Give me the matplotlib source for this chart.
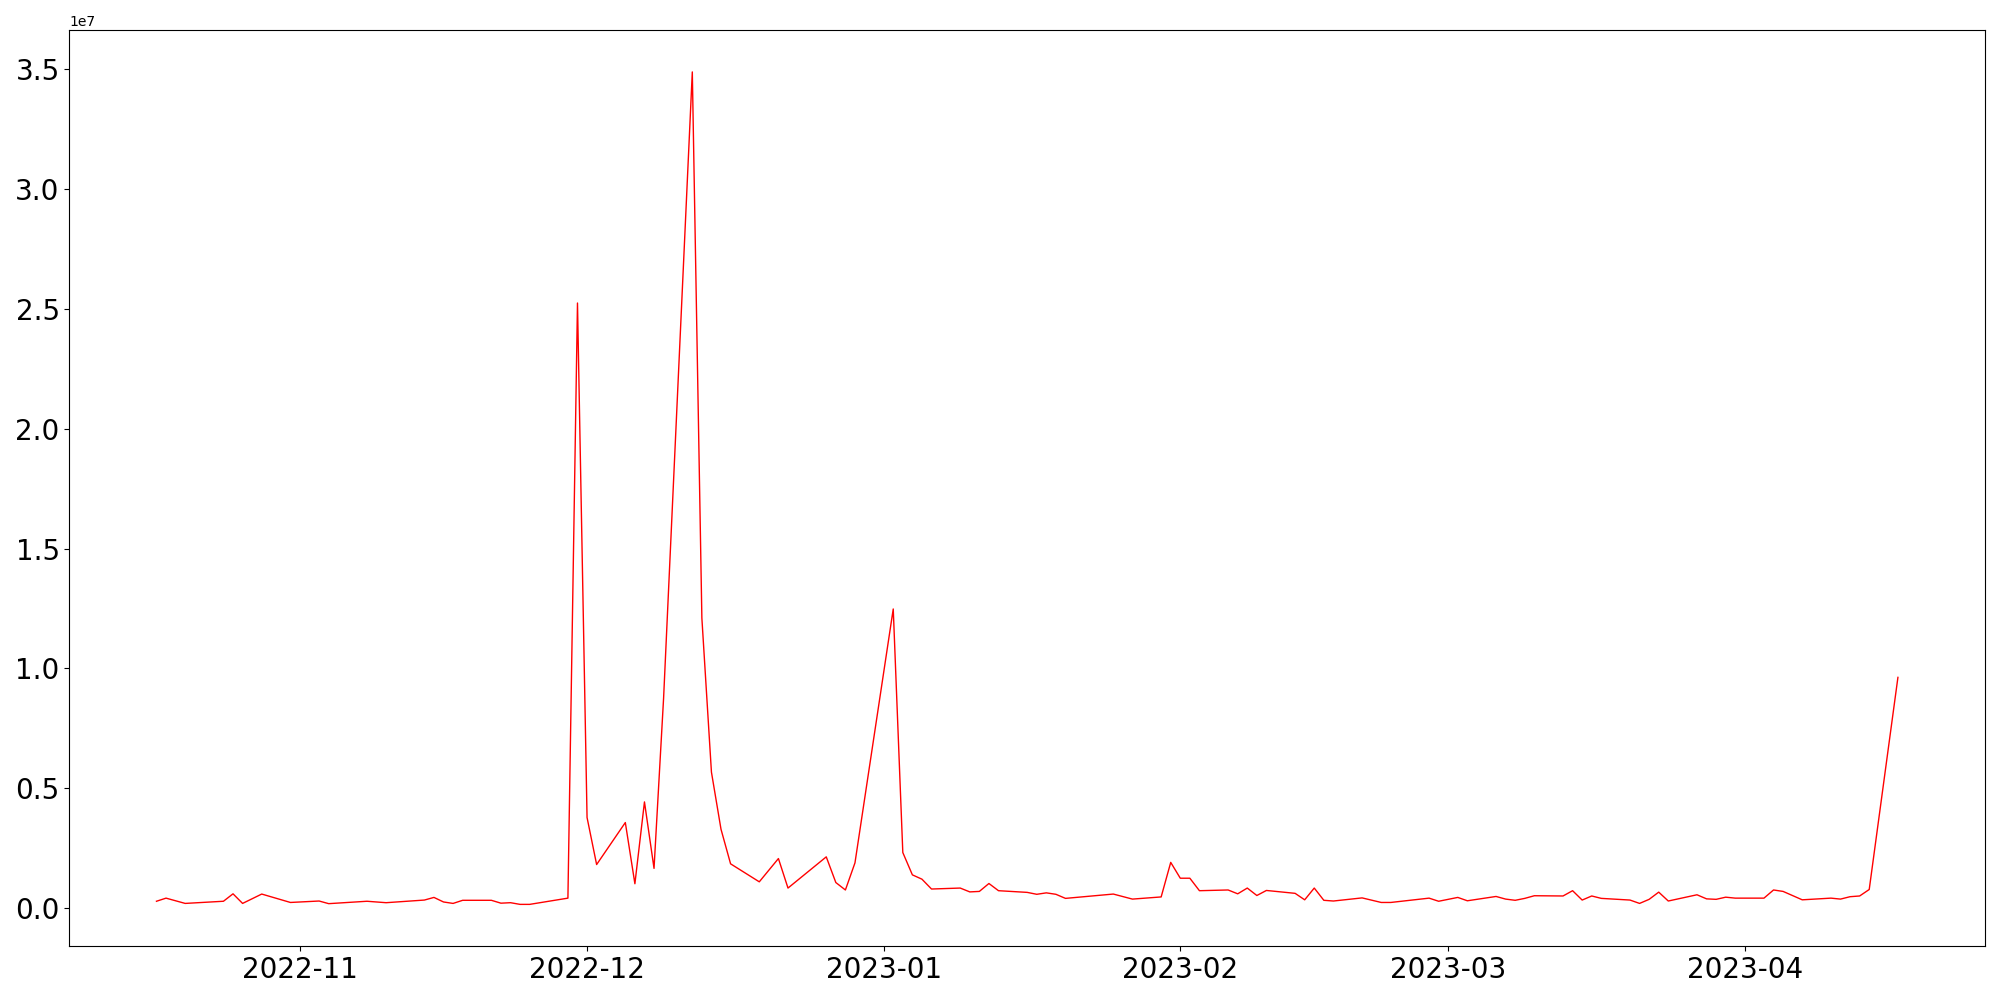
import numpy as np
import pandas as pd
import matplotlib
matplotlib.use("Agg")
import matplotlib.pyplot as plt

# trading days (gaps are dates that fall on a straight segment or are missing)
dates = [
    "2022-10-17", "2022-10-18", "2022-10-20", "2022-10-24", "2022-10-25", "2022-10-26",
    "2022-10-28", "2022-10-31", "2022-11-03", "2022-11-04", "2022-11-08", "2022-11-10",
    "2022-11-14", "2022-11-15", "2022-11-16", "2022-11-17", "2022-11-18", "2022-11-21",
    "2022-11-22", "2022-11-23", "2022-11-24", "2022-11-25", "2022-11-29", "2022-11-30",
    "2022-12-01", "2022-12-02", "2022-12-05", "2022-12-06", "2022-12-07", "2022-12-08",
    "2022-12-09", "2022-12-12", "2022-12-13", "2022-12-14", "2022-12-15", "2022-12-16",
    "2022-12-19", "2022-12-21", "2022-12-22", "2022-12-26", "2022-12-27", "2022-12-28",
    "2022-12-29", "2023-01-02", "2023-01-03", "2023-01-04", "2023-01-05", "2023-01-06",
    "2023-01-09", "2023-01-10", "2023-01-11", "2023-01-12", "2023-01-13", "2023-01-16",
    "2023-01-17", "2023-01-18", "2023-01-19", "2023-01-20", "2023-01-25", "2023-01-27",
    "2023-01-30", "2023-01-31", "2023-02-01", "2023-02-02", "2023-02-03", "2023-02-06",
    "2023-02-07", "2023-02-08", "2023-02-09", "2023-02-10", "2023-02-13", "2023-02-14",
    "2023-02-15", "2023-02-16", "2023-02-17", "2023-02-20", "2023-02-22", "2023-02-23",
    "2023-02-27", "2023-02-28", "2023-03-02", "2023-03-03", "2023-03-06", "2023-03-07",
    "2023-03-08", "2023-03-09", "2023-03-10", "2023-03-13", "2023-03-14", "2023-03-15",
    "2023-03-16", "2023-03-17", "2023-03-20", "2023-03-21", "2023-03-22", "2023-03-23",
    "2023-03-24", "2023-03-27", "2023-03-28", "2023-03-29", "2023-03-30", "2023-03-31",
    "2023-04-03", "2023-04-04", "2023-04-05", "2023-04-07", "2023-04-10", "2023-04-11",
    "2023-04-12", "2023-04-13", "2023-04-14", "2023-04-17",
]

# values in millions
values_m = [
    0.30, 0.43, 0.21, 0.30, 0.61, 0.21,
    0.60, 0.25, 0.31, 0.20, 0.30, 0.24,
    0.35, 0.46, 0.27, 0.21, 0.34, 0.34,
    0.22, 0.24, 0.17, 0.17, 0.43, 25.23,
    3.79, 1.83, 3.58, 1.03, 4.44, 1.67,
    8.77, 34.86, 12.10, 5.68, 3.30, 1.86,
    1.11, 2.08, 0.85, 2.15, 1.08, 0.77,
    1.90, 12.48, 2.33, 1.40, 1.22, 0.81,
    0.85, 0.69, 0.71, 1.04, 0.74, 0.67,
    0.59, 0.65, 0.59, 0.42, 0.60, 0.39,
    0.48, 1.92, 1.26, 1.26, 0.74, 0.77,
    0.61, 0.85, 0.54, 0.75, 0.63, 0.36,
    0.85, 0.34, 0.31, 0.44, 0.25, 0.25,
    0.43, 0.30, 0.46, 0.32, 0.50, 0.39,
    0.34, 0.42, 0.53, 0.52, 0.74, 0.35,
    0.52, 0.42, 0.35, 0.21, 0.38, 0.68,
    0.31, 0.57, 0.40, 0.38, 0.47, 0.43,
    0.43, 0.77, 0.71, 0.36, 0.43, 0.39,
    0.49, 0.52, 0.79, 9.63,
]

x = pd.to_datetime(dates)
y = np.array(values_m) * 1e6

fig, ax = plt.subplots(figsize=(20, 10), dpi=100)
ax.plot(x, y, color="red", linewidth=1)
ax.tick_params(axis="both", labelsize=20)
plt.subplots_adjust(left=0.0347, right=0.9925, top=0.9697, bottom=0.054)
plt.savefig("out.png")
